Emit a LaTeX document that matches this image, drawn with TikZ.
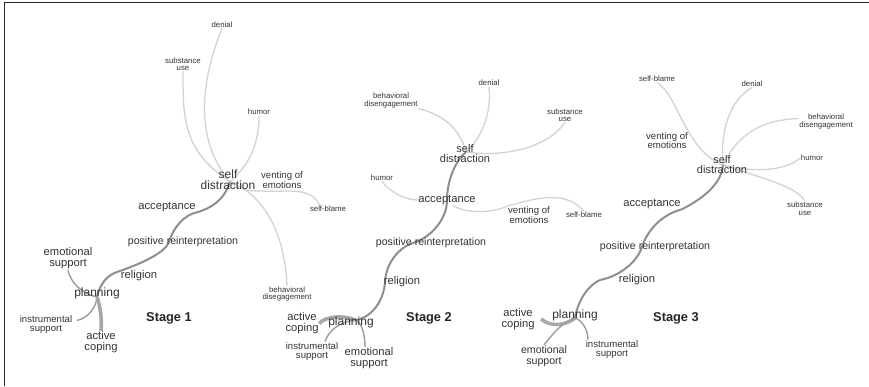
\documentclass[tikz,border=0pt]{standalone}
\usepackage{fontspec}
\setmainfont{Liberation Sans}
\usetikzlibrary{backgrounds}
\definecolor{txt}{HTML}{333333}
\definecolor{lightc}{HTML}{D2D2D2}
\definecolor{mainc}{HTML}{8E8E8E}
\definecolor{plc}{HTML}{9C9C9C}
\definecolor{thickc}{HTML}{A8A8A8}
\begin{document}
\begin{tikzpicture}[x=1pt,y=-1pt,
  lbl/.style={inner sep=0.5pt, text=txt, align=center},
  tiny/.style={lbl, font=\fontsize{7.8}{7.5}\selectfont},
  small/.style={lbl, font=\fontsize{9.6}{9.3}\selectfont},
  midl/.style={lbl, font=\fontsize{11.2}{11}\selectfont},
  posl/.style={lbl, font=\fontsize{10.6}{11}\selectfont},
  bigl/.style={lbl, font=\fontsize{12}{11}\selectfont},
  bigm/.style={lbl, font=\fontsize{11}{10.5}\selectfont},
  stagel/.style={inner sep=0.5pt, text=black!85, font=\bfseries\fontsize{12.8}{13}\selectfont},
  light/.style={draw=lightc, line width=1.3pt},
  mainline/.style={draw=mainc, line width=2pt},
  plline/.style={draw=plc, line width=1.4pt},
  thickline/.style={draw=thickc, line width=3.6pt}]
\useasboundingbox (0,0) rectangle (869,386);
\draw[line width=1.5pt, black!85] (4.5,386) -- (4.5,2.7) -- (869,2.7);

% ---------------- Stage 1 ----------------
\node[tiny] (denA) at (222,25) {denial};
\node[tiny] (subA) at (183,64) {substance\\use};
\node[tiny] (humA) at (259,112) {humor};
\node[bigl] (sdA) at (228,179.5) {self\\distraction};
\node[small] (ventA) at (282,180) {venting of\\emotions};
\node[tiny] (sbA) at (328,209) {self-blame};
\node[midl] (accA) at (167,207) {acceptance};
\node[posl] (posA) at (183,242) {positive reinterpretation};
\node[midl] (relA) at (139,276) {religion};
\node[midl] (emoA) at (68,258.5) {emotional\\support};
\node[bigl] (planA) at (97,293) {planning};
\node[small] (instA) at (46,324.5) {instrumental\\support};
\node[midl] (actA) at (101,342.5) {active\\coping};
\node[tiny] (bdA) at (287,294) {behavioral\\disegagement};
\node[stagel] (stA) at (169,318) {Stage 1};
\coordinate (hA) at (230,182);
\coordinate (hpA) at (97,297);

% ---------------- Stage 2 ----------------
\node[tiny] (denB) at (489,83) {denial};
\node[tiny] (bdB) at (391,100.5) {behavioral\\disengagement};
\node[tiny] (subB) at (565,115) {substance\\use};
\node[bigm] (sdB) at (465,153.5) {self\\distraction};
\node[tiny] (humB) at (382,178) {humor};
\node[midl] (accB) at (447,200) {acceptance};
\node[small] (ventB) at (529,215) {venting of\\emotions};
\node[tiny] (sbB) at (584,215) {self-blame};
\node[posl] (posB) at (431,243) {positive reinterpretation};
\node[midl] (relB) at (402,282) {religion};
\node[bigl] (planB) at (351,322) {planning};
\node[midl] (actB) at (302,323.5) {active\\coping};
\node[small] (instB) at (312,351.5) {instrumental\\support};
\node[midl] (emoB) at (369,358.5) {emotional\\support};
\node[stagel] (stB) at (429,318) {Stage 2};
\coordinate (hB) at (466,152);
\coordinate (hpB) at (355,320);

% ---------------- Stage 3 ----------------
\node[tiny] (sbC) at (657,79) {self-blame};
\node[tiny] (denC) at (752,84) {denial};
\node[tiny] (bdC) at (826,121.5) {behavioral\\disengagement};
\node[small] (ventC) at (667,140.5) {venting of\\emotions};
\node[tiny] (humC) at (812,158) {humor};
\node[bigm] (sdC) at (722,164.5) {self\\distraction};
\node[tiny] (subC) at (805,208.5) {substance\\use};
\node[midl] (accC) at (652,204) {acceptance};
\node[posl] (posC) at (655,247) {positive reinterpretation};
\node[midl] (relC) at (637,280) {religion};
\node[stagel] (stC) at (676,318) {Stage 3};
\node[bigl] (planC) at (575,315) {planning};
\node[midl] (actC) at (518,319) {active\\coping};
\node[posl] (emoC) at (544,356) {emotional\\support};
\node[small] (instC) at (612,349.5) {instrumental\\support};
\coordinate (hC) at (723,165);
\coordinate (hpC) at (575,318);

\begin{scope}[on background layer]
% Stage 1 edges
\draw[light] (denA.south) .. controls (205,70) and (190,135) .. (hA);
\draw[light] (subA.south) .. controls (183,120) and (183,150) .. (hA);
\draw[light] (humA.south) .. controls (259,150) and (245,168) .. (hA);
\draw[light] (hA) .. controls (238,191) and (252,191) .. ([yshift=-2pt]ventA.south west);
\draw[light] ([yshift=-2pt]ventA.south west) .. controls (285,193) and (310,185) .. ([xshift=-8pt]sbA.north);
\draw[light] (hA) .. controls (265,195) and (285,235) .. (bdA.north);
\draw[mainline] (hA) .. controls (224,200) and (212,208) .. (accA.south east)
  .. controls (184,215) and (173,228) .. ([xshift=-14pt]posA.center)
  .. controls (165,252) and (146,262) .. ([xshift=-22pt,yshift=4pt]relA.center)
  .. controls (108,275) and (100,283) .. (hpA);
\draw[plline] (emoA.south) .. controls (70,282) and (82,294) .. (hpA);
\draw[plline] ([xshift=4pt,yshift=4pt]instA.east) .. controls (88,318) and (96,308) .. (hpA);
\draw[thickline] (hpA) .. controls (100,305) and (102,318) .. (actA.north);

% Stage 2 edges
\draw[light] (denB.south) .. controls (492,115) and (480,140) .. (hB);
\draw[light] (bdB.south east) .. controls (445,115) and (460,130) .. (hB);
\draw[light] (hB) .. controls (510,158) and (550,145) .. (subB.south);
\draw[light] (humB.south) .. controls (390,192) and (405,200) .. (accB.west);
\draw[light] ([xshift=6pt]accB.south) .. controls (468,215) and (495,212) .. (ventB.north west);
\draw[light] (ventB.north west) .. controls (530,200) and (565,188) .. (sbB.north);
\draw[mainline] (hB) .. controls (456,160) and (447,180) .. (accB.center)
  .. controls (447,220) and (430,238) .. ([xshift=-18pt]posB.center)
  .. controls (400,247) and (386,262) .. ([xshift=-17pt]relB.center)
  .. controls (384,300) and (372,318) .. (hpB);
\draw[thickline] (actB.east) .. controls (325,316) and (345,315) .. (hpB);
\draw[plline] ([xshift=13pt]instB.north) .. controls (328,332) and (338,322) .. (hpB);
\draw[plline] (hpB) .. controls (362,322) and (365,335) .. ([xshift=-4pt]emoB.north);

% Stage 3 edges
\draw[light] (sbC.south) .. controls (678,95) and (685,150) .. (hC);
\draw[light] (denC.south) .. controls (730,100) and (720,130) .. (hC);
\draw[light] (hC) .. controls (735,140) and (755,120) .. ([yshift=3pt]bdC.west);
\draw[light] (hC) .. controls (750,172) and (785,172) .. (humC.west);
\draw[light] (hC) .. controls (760,178) and (795,185) .. (subC.north);
\draw[mainline] (hC) .. controls (722,182) and (705,198) .. (accC.south east)
  .. controls (664,214) and (648,228) .. ([xshift=-13pt]posC.center)
  .. controls (637,262) and (620,276) .. ([xshift=-37pt]relC.center)
  .. controls (585,287) and (577,305) .. (hpC);
\draw[thickline] ([xshift=6pt]actC.east) .. controls (550,327) and (565,326) .. (hpC);
\draw[plline] (emoC.north) .. controls (552,335) and (562,322) .. (hpC);
\draw[plline] (hpC) .. controls (582,320) and (588,330) .. ([xshift=-24pt]instC.north);
\end{scope}
\end{tikzpicture}
\end{document}
